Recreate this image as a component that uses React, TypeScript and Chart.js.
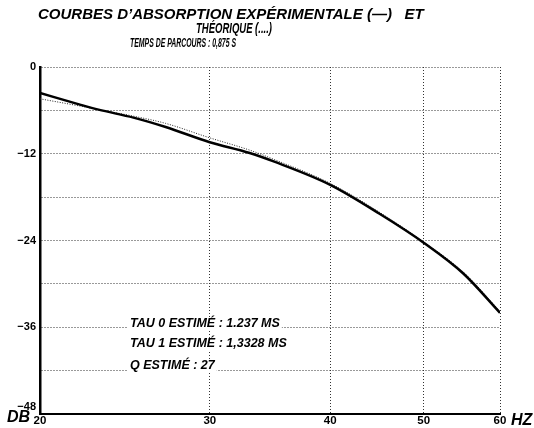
import React, { useEffect, useRef } from "react";
import { Chart, registerables } from "chart.js";

Chart.register(...registerables);

const freqs = [20, 22, 23, 25, 27, 30, 33, 35, 40, 45, 50, 55, 60];
const experimental = [-3.6, -5.2, -5.9, -7.0, -8.3, -10.4, -11.9, -13.1, -16.3, -20.3, -24.3, -28.6, -34.0];
const theoretical = [-4.4, -5.4, -5.9, -6.8, -7.8, -9.8, -11.5, -12.8, -16.1, -20.1, -24.2, -28.4, -33.8];
const xTickValues = [20, 30, 40, 50, 60];
const titleLines = ["COURBES D\u2019ABSORPTION EXPÉRIMENTALE (\u2014)   ET", "THÉORIQUE (....)"];
const subtitle = "TEMPS DE PARCOURS : 0,875 S";
const notes = ["TAU 0 ESTIMÉ : 1.237 MS", "TAU 1 ESTIMÉ : 1,3328 MS", "Q ESTIMÉ : 27"];
const yAxisLabel = "DB";
const xAxisLabel = "HZ";
const yMin = -48;

const FONT = "'Liberation Sans', Arial, sans-serif";

const fmtY = (v: number) => (v === 0 ? "0" : "\u2212" + Math.abs(v));

const textPlugin = {
  id: "texts",
  afterDraw(chart: any) {
    const ctx = chart.ctx as CanvasRenderingContext2D;
    ctx.save();
    ctx.fillStyle = "#000";
    ctx.textBaseline = "middle";
    ctx.textAlign = "left";
    ctx.font = `italic bold 15px ${FONT}`;
    ctx.fillText(titleLines[0], 38, 15, 419);
    ctx.font = `italic bold 15px ${FONT}`;
    ctx.fillText(titleLines[1], 196, 29, 76);
    ctx.font = `italic bold 12px ${FONT}`;
    ctx.fillText(subtitle, 130, 44, 106);

    const noteY = [324, 344, 366];
    ctx.font = `italic bold 12.5px ${FONT}`;
    notes.forEach((t, i) => {
      const w = ctx.measureText(t).width;
      ctx.fillStyle = "#fff";
      ctx.fillRect(128, noteY[i] - 6, w + 4, 12);
      ctx.fillStyle = "#000";
      ctx.fillText(t, 130, noteY[i]);
    });

    ctx.font = `bold 11px ${FONT}`;
    ctx.textAlign = "right";
    ctx.fillText(fmtY(yMin), 36, 407);

    ctx.textAlign = "left";
    ctx.font = `italic bold 16px ${FONT}`;
    ctx.fillText(yAxisLabel, 7, 418, 26);
    ctx.fillText(xAxisLabel, 511, 421, 22);
    ctx.restore();
  },
};

export default function App() {
  const ref = useRef<HTMLCanvasElement | null>(null);
  useEffect(() => {
    if (!ref.current) return;
    const chart = new Chart(ref.current, {
      type: "line",
      data: {
        datasets: [
          {
            label: "Expérimentale",
            data: freqs.map((f, i) => ({ x: f, y: experimental[i] })),
            borderColor: "#000",
            borderWidth: 2.5,
            pointRadius: 0,
            cubicInterpolationMode: "monotone",
            fill: false,
          },
          {
            label: "Théorique",
            data: freqs.map((f, i) => ({ x: f, y: theoretical[i] })),
            borderColor: "#222",
            borderWidth: 1,
            borderDash: [1, 1.5],
            pointRadius: 0,
            cubicInterpolationMode: "monotone",
            fill: false,
          },
        ],
      },
      options: {
        responsive: false,
        animation: false,
        devicePixelRatio: 1,
        layout: { padding: { top: 67, right: 34, left: 0, bottom: 0 } },
        plugins: {
          legend: { display: false },
          title: { display: false },
          tooltip: { enabled: false },
        },
        scales: {
          x: {
            type: "logarithmic",
            min: 20,
            max: 60,
            afterBuildTicks: (scale: any) => {
              scale.ticks = xTickValues.map((v) => ({ value: v }));
            },
            afterFit: (scale: any) => {
              scale.height = 14;
            },
            grid: {
              color: "#333",
              lineWidth: 1,
              drawTicks: false,
            },
            border: { display: true, color: "#000", width: 2, dash: [1, 2] },
            ticks: {
              autoSkip: false,
              maxRotation: 0,
              padding: 0,
              color: "#000",
              font: { family: FONT, weight: "bold", size: 11.5 },
              callback: (v: any) => String(v),
            },
          },
          y: {
            min: yMin,
            max: 0,
            afterFit: (scale: any) => {
              scale.width = 40;
            },
            grid: {
              color: "#333",
              lineWidth: 1,
              drawTicks: false,
            },
            border: { display: true, color: "#000", width: 2.5, dash: [1, 2] },
            ticks: {
              stepSize: 6,
              padding: 4,
              color: "#000",
              font: { family: FONT, weight: "bold", size: 11 },
              callback: (v: any) => (v % 12 === 0 && v !== yMin ? fmtY(v) : ""),
            },
          },
        },
      },
      plugins: [textPlugin],
    } as any);
    return () => chart.destroy();
  }, []);
  return (
    <div style={{ position: "fixed", left: 0, top: 0, width: 534, height: 428, background: "#fff" }}>
      <canvas ref={ref} width={534} height={428} />
    </div>
  );
}
